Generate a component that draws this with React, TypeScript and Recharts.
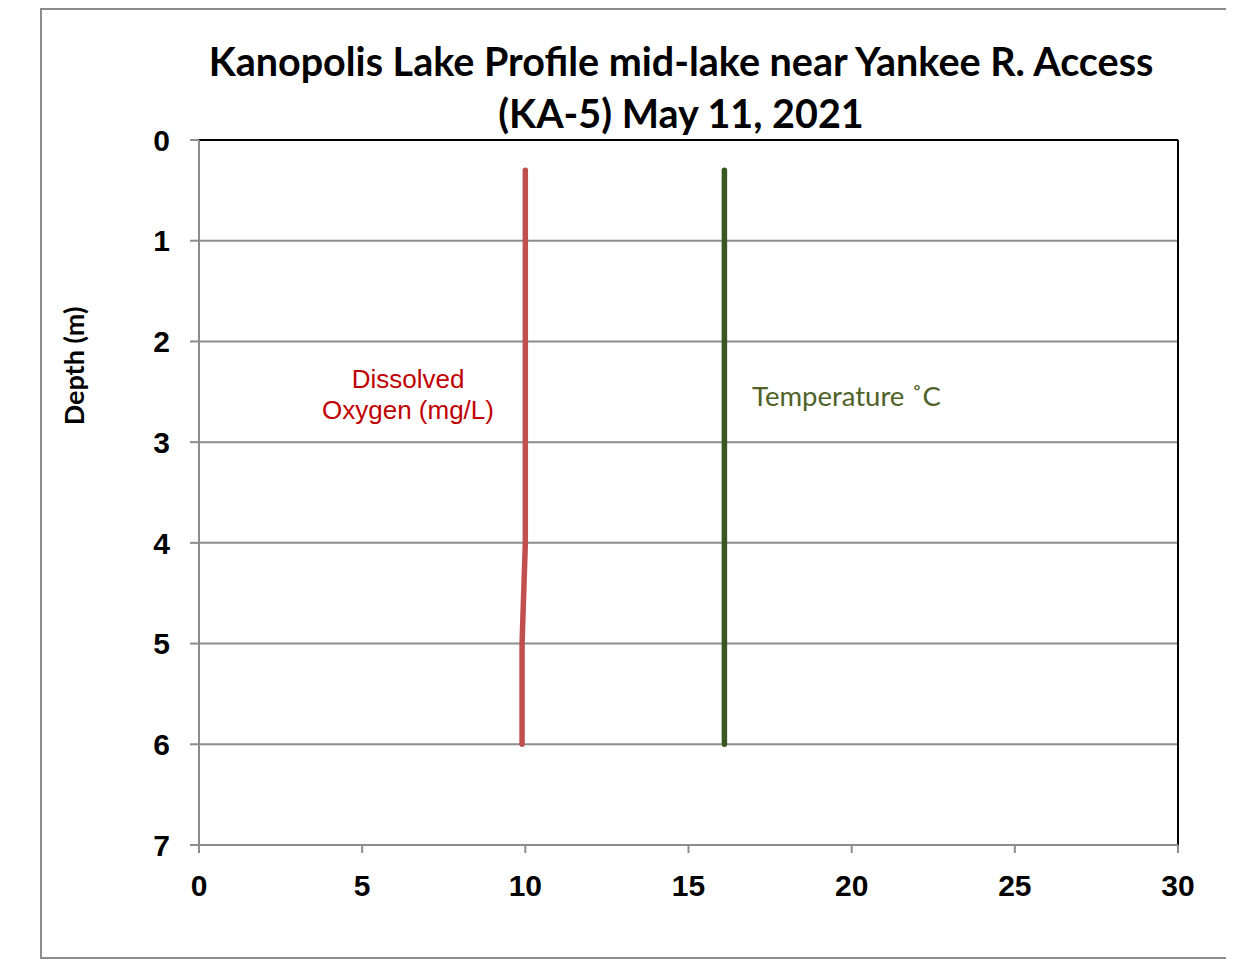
import { LineChart, Line, XAxis, YAxis, CartesianGrid, ReferenceLine } from "recharts";

const depths = [0.3, 1, 2, 3, 4, 5, 6];
const dissolvedOxygen = [10.0, 10.0, 10.0, 10.0, 10.0, 9.9, 9.9];
const temperature = [16.1, 16.1, 16.1, 16.1, 16.1, 16.1, 16.1];
const xTicks = [0, 5, 10, 15, 20, 25, 30];
const yTicks = [0, 1, 2, 3, 4, 5, 6, 7];

const data = depths.map((d, i) => ({
  depth: d,
  oxygen: dissolvedOxygen[i],
  temp: temperature[i],
}));

const tickStyle = {
  fill: "#000",
  fontSize: 30,
  fontWeight: 700,
  fontFamily: "'Liberation Sans', Arial, sans-serif",
};

export default function App() {
  return (
    <div style={{ position: "relative", width: 1226, height: 951, overflow: "hidden" }}>
      <div
        style={{
          position: "absolute",
          left: 32,
          top: 0,
          width: 1240,
          height: 947,
          border: "2px solid #8c8c8c",
        }}
      />
      <div
        style={{
          position: "absolute",
          left: 140,
          width: 1066,
          top: 27,
          textAlign: "center",
          fontFamily: "Lato, 'Open Sans', sans-serif",
          fontWeight: 700,
          fontSize: 39.5,
          lineHeight: "52px",
          color: "#000",
        }}
      >
        Kanopolis Lake Profile mid-lake near Yankee R. Access
        <br />
        (KA-5) May 11, 2021
      </div>
      <div
        style={{
          position: "absolute",
          left: 65,
          top: 358,
          transform: "translate(-50%, -50%) rotate(-90deg)",
          fontFamily: "Lato, 'Open Sans', sans-serif",
          fontWeight: 700,
          fontSize: 27,
          whiteSpace: "nowrap",
        }}
      >
        Depth (m)
      </div>
      <div
        style={{
          position: "absolute",
          left: 290,
          width: 220,
          top: 356,
          textAlign: "center",
          fontFamily: "'Liberation Sans', Arial, sans-serif",
          fontSize: 26,
          lineHeight: "31px",
          color: "#c00000",
        }}
      >
        Dissolved
        <br />
        Oxygen (mg/L)
      </div>
      <div
        style={{
          position: "absolute",
          left: 744,
          top: 371,
          fontFamily: "Lato, 'Open Sans', sans-serif",
          fontSize: 27.5,
          color: "#4f6228",
          whiteSpace: "nowrap",
        }}
      >
        Temperature ˚C
      </div>
      <div style={{ position: "absolute", left: 0, top: 0 }}>
        <LineChart
          width={1226}
          height={951}
          data={data}
          layout="vertical"
          margin={{ top: 132, right: 56, bottom: 74, left: 131 }}
        >
          <CartesianGrid vertical={false} stroke="#8c8c8c" strokeWidth={2} />
          <XAxis
            type="number"
            domain={[0, 30]}
            ticks={xTicks}
            interval={0}
            height={40}
            tick={tickStyle}
            tickSize={8}
            tickMargin={22}
            axisLine={{ stroke: "#8c8c8c", strokeWidth: 2 }}
            tickLine={{ stroke: "#8c8c8c", strokeWidth: 2 }}
          />
          <YAxis
            type="number"
            dataKey="depth"
            domain={[0, 7]}
            ticks={yTicks}
            interval={0}
            width={60}
            tick={tickStyle}
            tickSize={9}
            tickMargin={20}
            axisLine={{ stroke: "#8c8c8c", strokeWidth: 2 }}
            tickLine={{ stroke: "#8c8c8c", strokeWidth: 2 }}
          />
          <ReferenceLine y={0} stroke="#000" strokeWidth={2} />
          <ReferenceLine x={30} stroke="#000" strokeWidth={2} />
          <Line
            dataKey="oxygen"
            type="linear"
            stroke="#c0504d"
            strokeWidth={5.5}
            strokeLinecap="round"
            dot={false}
            isAnimationActive={false}
          />
          <Line
            dataKey="temp"
            type="linear"
            stroke="#385723"
            strokeWidth={5.5}
            strokeLinecap="round"
            dot={false}
            isAnimationActive={false}
          />
        </LineChart>
      </div>
    </div>
  );
}
